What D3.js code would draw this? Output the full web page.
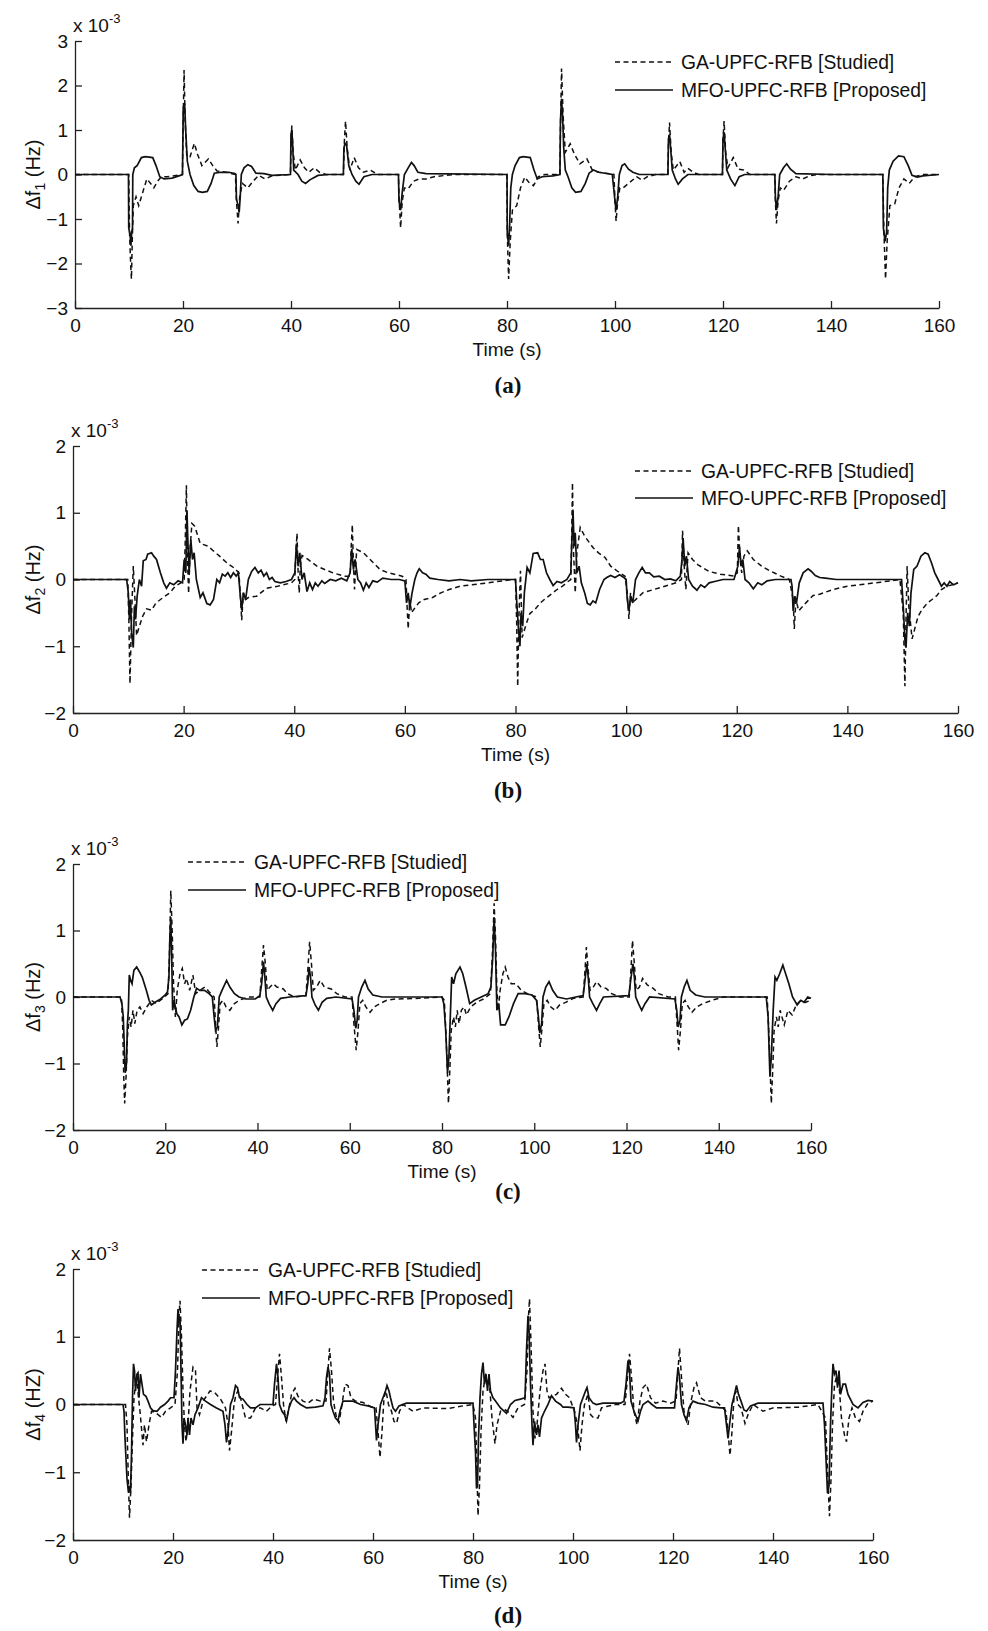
<!DOCTYPE html>
<html>
<head>
<meta charset="utf-8">
<script src="https://cdn.jsdelivr.net/npm/d3@7"></script>
<style>
  body { margin: 0; background: #fff; }
  svg text { font-family: "Liberation Sans", Arial, sans-serif; fill: #111; }
  .caption { font-family: "Liberation Serif", "Times New Roman", serif !important; font-weight: bold; }
  .axis path, .axis line { stroke: #222; stroke-width: 1.3; }
  .axis text { font-size: 19px; fill: #111; font-family: "Liberation Sans", Arial, sans-serif; }
</style>
</head>
<body>
<svg id="fig" width="988" height="1631"></svg>
<script>
// time axis (s) and tick labels, values below are in units of 1e-3 Hz
const timeTicks = [0, 20, 40, 60, 80, 100, 120, 140, 160];
const yTicks3 = [-3, -2, -1, 0, 1, 2, 3];
const yTicks2 = [-2, -1, 0, 1, 2];
const legendLabels = ["GA-UPFC-RFB [Studied]", "MFO-UPFC-RFB [Proposed]"];
const captions = ["(a)", "(b)", "(c)", "(d)"];

// panel (a) - delta f1
const gaA = [[0,0],[9.95,0],[10.1,-1.3],[10.3,-2.0],[10.45,-2.35],[10.6,-1.5],[10.8,-0.7],[11.3,-0.5],[11.8,-0.7],[12.3,-0.5],[13.3,-0.1],[14,-0.2],[14.6,-0.3],[15.3,-0.15],[16,-0.05],[17,-0.05],[19.9,0],[20,1.0],[20.2,2.35],[20.4,1.2],[20.7,0.4],[21.3,0.4],[22.1,0.7],[22.7,0.45],[23.5,0.2],[24.7,0.35],[25.5,0.2],[26.3,0.08],[28,0.05],[29.7,0],[29.9,-0.6],[30.2,-1.1],[30.5,-0.5],[31,-0.2],[32,-0.3],[33,-0.15],[34,-0.02],[35.2,-0.1],[36.5,-0.03],[39.9,0],[40,0.6],[40.15,1.1],[40.4,0.5],[40.8,0.1],[41.7,0.33],[42.5,0.15],[43.3,0.05],[44.3,0.15],[45.3,0.05],[46.5,0],[49.7,0],[49.9,0.8],[50.1,1.2],[50.4,0.6],[50.9,0.1],[51.7,0.38],[52.5,0.15],[53.4,0.05],[54.7,0.1],[56,0],[59.9,0],[60,-0.5],[60.3,-1.2],[60.6,-0.6],[61,-0.3],[61.7,-0.32],[62.7,-0.15],[63.7,-0.1],[65,-0.1],[66.5,-0.05],[70,0],
  [80,0],[80.05,-1.3],[80.3,-2.35],[80.6,-1.5],[81,-0.8],[81.8,-0.7],[82.5,-0.3],[83.3,-0.06],[84.2,-0.2],[84.9,-0.25],[85.8,-0.05],[87,0],[89.8,0],[89.9,1.0],[90.1,2.38],[90.4,1.3],[90.8,0.5],[91.7,0.69],[92.5,0.45],[93.5,0.24],[94.8,0.35],[95.8,0.1],[97,0.05],[99.8,0],[100,-0.6],[100.2,-1.05],[100.5,-0.6],[100.9,-0.3],[101.5,-0.3],[102.5,-0.2],[104,-0.05],[105,-0.13],[106,-0.05],[107.5,0],[109.8,0],[109.9,0.7],[110.1,1.17],[110.4,0.5],[110.8,0.1],[112,0.29],[112.8,0.05],[113.5,0.14],[114.5,0.05],[115.5,0],[119.9,0],[120,0.8],[120.2,1.2],[120.5,0.5],[120.9,0.15],[121.9,0.38],[122.8,0.12],[123.8,0.1],[125,0],[129.6,0],[129.7,-0.6],[129.9,-1.1],[130.2,-0.6],[130.6,-0.3],[131.2,-0.36],[132.3,-0.15],[133.5,-0.05],[134.8,-0.1],[136,-0.03],[137.5,0],[149.6,0],[149.8,-1.3],[150.1,-2.35],[150.4,-1.5],[150.9,-0.7],[151.8,-0.66],[152.6,-0.3],[153.5,-0.1],[154.5,-0.2],[155.5,-0.05],[157,0],[160,0]];
const mfoA = [[0,0],[9.9,0],[9.95,-1.2],[10.2,-1.35],[10.35,-1.6],[10.5,-1.3],[10.65,-1.2],[10.7,0],[11,0.15],[11.5,0.2],[12.3,0.38],[13,0.4],[14.4,0.38],[15,0.2],[15.7,-0.05],[16.5,-0.1],[18,-0.08],[19.5,-0.02],[19.9,0],[20.05,1.5],[20.3,1.6],[20.5,1.0],[20.8,0.3],[21.3,0],[22,-0.25],[22.8,-0.38],[23.6,-0.4],[24.5,-0.38],[25.2,-0.2],[25.8,0.03],[27,0.05],[28.5,0.05],[29.6,0.02],[29.8,0],[29.9,-0.55],[30.2,-0.7],[30.4,-0.85],[30.6,-0.5],[30.8,0],[31.3,0.15],[32,0.22],[32.7,0.18],[33.5,0.03],[35,0.02],[36.5,-0.02],[39.9,0],[40,0.9],[40.15,1.0],[40.3,0.7],[40.5,0.1],[41.3,0],[42,-0.15],[42.7,-0.2],[43.5,-0.12],[45,-0.02],[47,0],[49.7,0],[49.8,0.6],[50,0.7],[50.3,0.65],[50.7,0.2],[51.3,0],[52,-0.15],[52.6,-0.22],[53.5,-0.05],[55,0],[59.9,0],[60,-0.6],[60.3,-0.8],[60.6,-0.4],[61,0],[61.7,0.15],[62.3,0.27],[62.8,0.2],[63.5,0.05],[65,0.02],
  [80,0],[80.05,-1.3],[80.3,-1.6],[80.5,-1.1],[80.7,-0.3],[81,0],[81.5,0.2],[82.3,0.38],[83,0.4],[84.3,0.38],[85,0.1],[85.6,-0.1],[86.5,-0.05],[88.5,-0.03],[89.8,0],[89.9,1.2],[90.1,1.7],[90.3,1.3],[90.5,0.6],[90.8,0.1],[91.3,-0.05],[92,-0.3],[92.7,-0.4],[93.7,-0.38],[94.5,-0.2],[95.2,0.03],[96,0.1],[97,0.05],[99.5,0],[100,-0.6],[100.2,-0.8],[100.5,-0.5],[100.8,0],[101.3,0.2],[101.8,0.24],[102.5,0.12],[103.3,0.05],[104.5,0],[109.8,0],[109.9,0.8],[110.1,0.9],[110.3,0.6],[110.6,0.1],[111.2,-0.1],[111.7,-0.22],[112.5,-0.1],[113.5,0],[119.9,0],[120,0.8],[120.2,0.95],[120.4,0.6],[120.7,0.1],[121.4,-0.1],[122.2,-0.25],[123,-0.05],[124,0],[129.6,0],[129.7,-0.5],[129.9,-0.8],[130.2,-0.5],[130.5,0],[131.2,0.15],[131.8,0.24],[132.5,0.12],[133.5,0.02],[140,0],[149.6,0],[149.7,-1.2],[150,-1.5],[150.3,-1.3],[150.5,-0.3],[150.8,0.1],[151.5,0.3],[152.5,0.42],[153.5,0.4],[154.3,0.2],[155,-0.02],[156,-0.06],[157,-0.03],[160,0]];

// panel (b) - delta f2
const gaB = [[0,0],[9.9,0],[10.1,-0.6],[10.3,-1.56],[10.6,-0.5],[10.9,0.2],[11.2,-0.3],[11.5,-0.84],[12,-0.7],[12.6,-0.55],[13.3,-0.44],[14.2,-0.46],[15,-0.35],[16.3,-0.27],[17.5,-0.2],[18.5,-0.1],[19.5,-0.05],[20.1,0],[20.3,0.6],[20.5,1.41],[20.7,0.3],[20.9,-0.21],[21.2,0.5],[21.5,0.84],[22,0.8],[23,0.54],[24.4,0.5],[25.5,0.42],[26.5,0.35],[27.8,0.25],[29,0.18],[30,0.1],[30.3,-0.3],[30.5,-0.61],[30.8,-0.2],[31.2,-0.3],[31.7,-0.27],[33.2,-0.25],[35,-0.13],[37,-0.1],[39.5,-0.05],[40.1,0],[40.3,0.4],[40.5,0.69],[40.7,0.1],[40.9,-0.2],[41.1,0.2],[41.4,0.36],[42.5,0.3],[44.1,0.2],[45.5,0.15],[47,0.1],[49,0.05],[50.1,0.05],[50.3,0.5],[50.5,0.82],[50.7,0.2],[50.9,-0.15],[51.1,0.2],[51.3,0.45],[52.5,0.4],[54.3,0.25],[55.5,0.15],[57,0.1],[59.5,0.05],[60.2,0],[60.4,-0.4],[60.6,-0.74],[60.9,-0.3],[61.2,-0.5],[61.5,-0.46],[62.5,-0.35],[63.5,-0.3],[65,-0.27],[66.5,-0.2],[68,-0.15],[70,-0.1],[75,-0.05],[79.5,0],
  [80,0],[80.2,-0.6],[80.4,-1.6],[80.6,-0.6],[80.9,0.13],[81.2,-0.87],[82,-0.65],[82.6,-0.51],[83.5,-0.45],[84.5,-0.35],[85.5,-0.28],[86.6,-0.21],[87.5,-0.15],[88.5,-0.1],[89.5,-0.03],[90,0],[90.15,0.6],[90.3,1.45],[90.5,0.4],[90.8,-0.2],[91.1,0.4],[91.7,0.78],[92.5,0.65],[94,0.48],[95,0.4],[96.2,0.33],[97.2,0.2],[98.5,0.12],[99.8,0.05],[100.2,-0.2],[100.5,-0.59],[100.8,-0.2],[101.1,-0.35],[101.6,-0.31],[103,-0.2],[105,-0.15],[107,-0.1],[109,-0.05],[110,0],[110.2,0.73],[110.5,0.2],[110.8,-0.15],[111.2,0.4],[112,0.3],[113,0.22],[115,0.12],[117,0.08],[119.5,0.05],[120.1,0.1],[120.3,0.81],[120.6,0.3],[120.9,0.1],[121.3,0.35],[121.9,0.43],[123,0.3],[124.5,0.2],[126,0.13],[128,0.05],[129.5,0],[130.2,-0.3],[130.4,-0.74],[130.7,-0.3],[131.2,-0.47],[132.5,-0.35],[133.8,-0.24],[135,-0.22],[137.4,-0.15],[140,-0.1],[143,-0.07],[146,-0.04],[149.5,0],[150.1,-0.5],[150.4,-1.6],[150.6,-0.6],[150.8,0.2],[151.1,-0.4],[151.7,-0.89],[152.3,-0.7],[152.8,-0.55],[153.5,-0.45],[154.5,-0.35],[155.3,-0.3],[156.2,-0.24],[157,-0.15],[158,-0.1],[159,-0.08],[160,-0.05]];
const mfoB = [[0,0],[9.7,0],[10,-0.2],[10.2,-0.6],[10.4,-0.3],[10.6,-0.8],[10.9,-1.02],[11.1,-0.4],[11.3,-0.6],[11.6,-0.25],[12,0],[12.4,-0.1],[12.7,0.28],[13.2,0.3],[13.5,0.38],[14.2,0.4],[14.6,0.35],[15.1,0.3],[15.8,0.1],[16.4,-0.05],[16.9,-0.13],[17.5,-0.05],[18.2,-0.08],[19,-0.02],[19.8,-0.05],[20.1,0.3],[20.4,0.1],[20.6,1.03],[20.8,0.5],[21,0.1],[21.3,0.6],[21.6,0.3],[21.9,0.4],[22.3,0],[23,-0.27],[23.5,-0.2],[24.2,-0.36],[24.8,-0.38],[25.4,-0.3],[26,0],[26.5,-0.05],[27,0.08],[27.5,0.05],[28,0.1],[28.5,0.03],[29,0.1],[29.5,0.05],[29.9,0.1],[30.2,-0.2],[30.5,-0.46],[30.8,-0.2],[31.2,-0.3],[31.7,0],[32.3,0.12],[32.9,0.18],[33.5,0.1],[34,0.14],[34.5,0.05],[35,0.1],[35.5,0],[36,0.03],[36.5,-0.03],[37.5,-0.05],[38.5,-0.03],[39.5,0],[40.1,0.1],[40.4,0.54],[40.7,0.2],[41,0.4],[41.4,0],[41.8,0.1],[42.3,-0.18],[42.8,-0.05],[43.3,-0.15],[43.8,-0.05],[44.3,-0.1],[45,-0.02],[45.5,-0.06],[46.5,0],[47.5,-0.02],[48.5,0.02],[49.5,-0.02],[50.1,0.1],[50.4,0.46],[50.7,0.15],[51,0.3],[51.5,0],[52,-0.05],[52.5,-0.16],[53,-0.05],[53.5,-0.12],[54.2,-0.02],[55,-0.04],[56,0.02],[57.5,0],[59,0],[60,-0.02],[60.3,-0.35],[60.6,-0.2],[60.9,-0.42],[61.3,-0.2],[61.8,0],[62.2,0.1],[62.6,0.16],[63.2,0.1],[63.8,0.08],[64.5,0.02],[66,0],[68,-0.02],[70,0],[72,-0.02],[75,0],
  [80,0],[80.2,-0.3],[80.5,-0.7],[80.8,-1.0],[81,-0.5],[81.3,-0.7],[81.6,-0.2],[82.1,0.18],[82.6,0.1],[83.2,0.39],[84,0.4],[84.5,0.3],[85,0.3],[85.6,0.1],[86.2,0],[86.8,-0.09],[87.5,-0.03],[88.3,-0.05],[89.3,0],[90,0.1],[90.2,0.6],[90.4,1.03],[90.6,0.5],[90.8,0.7],[91.1,0.1],[91.5,0.2],[91.9,-0.05],[92.5,-0.2],[93,-0.36],[93.5,-0.38],[94,-0.32],[94.5,-0.35],[95.2,-0.15],[96,0],[96.5,0.03],[97.2,0.06],[98,0.03],[98.8,0.07],[99.6,0.03],[100,0],[100.2,-0.3],[100.5,-0.47],[100.8,-0.25],[101.2,-0.35],[101.7,0],[102.3,0.1],[102.9,0.18],[103.5,0.1],[104.2,0.1],[105,0.04],[106,0.05],[107,0],[108,0.01],[109,-0.02],[109.8,0.05],[110.1,0.3],[110.3,0.62],[110.6,0.2],[110.9,0.35],[111.3,0],[112,-0.1],[112.8,-0.16],[113.5,-0.08],[114.2,-0.12],[115,-0.05],[116,-0.03],[117.5,0],[119.5,0],[120.2,0.2],[120.5,0.49],[120.8,0.2],[121.1,0.3],[121.5,0],[122.2,-0.05],[123,-0.14],[123.8,-0.05],[124.5,-0.08],[125.5,-0.02],[127,0],[129.8,0],[130,-0.1],[130.2,-0.47],[130.5,-0.25],[130.8,-0.35],[131.3,-0.05],[132,0.1],[132.9,0.16],[133.5,0.12],[134.2,0.06],[135,0.03],[136,0.02],[138,0],[149.8,0],[150.1,-0.4],[150.4,-0.9],[150.6,-1.02],[150.9,-0.5],[151.2,-0.7],[151.5,-0.2],[152,0.15],[152.6,0.2],[153.3,0.35],[154,0.4],[154.6,0.38],[155.2,0.25],[155.8,0.1],[156.4,0],[157,-0.1],[157.5,-0.05],[158,-0.1],[158.5,-0.03],[159.2,-0.08],[160,-0.05]];

// panel (c) - delta f3
const gaC = [[0,0],[10.5,0],[10.8,-0.5],[11,-1.2],[11.2,-1.6],[11.5,-1.2],[11.8,-0.6],[12.2,-0.3],[12.6,-0.45],[13,-0.2],[13.4,-0.4],[13.9,-0.2],[14.5,-0.15],[15.2,-0.25],[16,-0.15],[17,-0.05],[18,-0.1],[19.5,-0.02],[20.6,0.05],[20.9,0.6],[21.2,1.6],[21.5,1.0],[21.8,0.2],[22.2,-0.3],[22.6,0.1],[23.2,0.35],[23.7,0.43],[24.2,0.2],[24.6,0.28],[25.3,0.1],[26,0.33],[26.6,0.05],[27.5,0.1],[28.6,0.15],[29.5,0.08],[30.6,0],[30.9,-0.4],[31.2,-0.75],[31.5,-0.5],[31.9,-0.1],[32.5,-0.05],[33.2,-0.15],[34,-0.2],[35,-0.1],[36,-0.05],[38,0],[40.5,0],[40.9,0.4],[41.3,0.78],[41.7,0.5],[42.1,0.1],[42.7,0.15],[43.4,0.2],[44.2,0.15],[45.6,0.12],[46.5,0.05],[48,0],[50.5,0.02],[50.9,0.4],[51.3,0.83],[51.7,0.5],[52.1,0.1],[52.8,0.15],[53.6,0.25],[54.5,0.15],[56,0.12],[57.2,0.05],[59,0],[60.5,0],[60.9,-0.4],[61.4,-0.8],[61.8,-0.5],[62.2,-0.1],[62.8,-0.05],[63.5,-0.15],[64.4,-0.23],[65.3,-0.15],[66.5,-0.1],[68,-0.05],[70,-0.03],[75,-0.02],
  [80,0],[80.5,-0.05],[80.9,-0.6],[81.2,-1.2],[81.4,-1.6],[81.7,-1.1],[82,-0.5],[82.5,-0.3],[82.9,-0.45],[83.3,-0.2],[83.7,-0.4],[84.2,-0.2],[84.8,-0.15],[85.3,-0.27],[86.2,-0.15],[87.5,-0.08],[89,-0.03],[90.5,0.05],[90.9,0.6],[91.3,1.41],[91.6,0.9],[91.9,0.1],[92.2,-0.2],[92.6,0.1],[93.2,0.35],[93.7,0.45],[94.3,0.3],[95,0.2],[96,0.2],[97.2,0.1],[98.5,0.05],[100.5,0],[100.9,-0.4],[101.3,-0.75],[101.7,-0.45],[102.1,-0.1],[102.8,-0.05],[103.6,-0.15],[104.5,-0.2],[105.5,-0.12],[106.8,-0.08],[108.5,-0.02],[110.6,0],[111,0.4],[111.3,0.75],[111.7,0.4],[112.1,0.1],[112.8,0.15],[113.5,0.23],[114.5,0.15],[115.6,0.13],[116.8,0.05],[118.5,0],[120.6,0],[121,0.45],[121.3,0.85],[121.7,0.5],[122.1,0.1],[122.8,0.15],[123.5,0.28],[124.5,0.18],[125.8,0.13],[127,0.05],[129,0],[130.6,0],[131,-0.45],[131.3,-0.8],[131.7,-0.5],[132.1,-0.1],[132.7,-0.05],[133.4,-0.15],[134.2,-0.23],[135.2,-0.15],[136.5,-0.1],[138.5,-0.05],[141,0],[150.5,0],[150.9,-0.6],[151.2,-1.2],[151.4,-1.6],[151.7,-1.1],[152,-0.5],[152.5,-0.3],[152.9,-0.45],[153.3,-0.2],[153.7,-0.3],[154.2,-0.42],[155,-0.2],[155.9,-0.27],[156.8,-0.12],[157.8,-0.05],[158.8,-0.08],[160,-0.05]];
const mfoC = [[0,0],[10.2,0],[10.6,-0.1],[10.9,-0.3],[11.1,-0.7],[11.3,-1.14],[11.6,-1.0],[11.8,-0.4],[12,-0.2],[12.2,0.33],[12.5,0.25],[12.8,0.2],[13.2,0.4],[13.8,0.45],[14.4,0.38],[15,0.3],[15.9,0.1],[16.5,-0.05],[17,-0.12],[17.8,-0.08],[19,-0.03],[20,0.03],[20.5,0.08],[20.8,0.3],[21,0.9],[21.2,1.2],[21.4,0.6],[21.6,-0.2],[21.9,-0.05],[22.5,-0.25],[23,-0.3],[23.6,-0.42],[24.2,-0.35],[24.8,-0.33],[25.5,-0.2],[26.2,0],[26.8,0.13],[27.5,0.1],[28.5,0.1],[29.5,0.05],[30.2,0],[30.6,-0.3],[30.9,-0.5],[31.3,-0.45],[31.7,0],[32.3,0.1],[33.3,0.25],[34,0.15],[35,0.05],[36,0],[37.5,-0.03],[39.5,-0.03],[40.5,0.02],[40.9,0.2],[41.3,0.53],[41.6,0.3],[41.9,0],[42.5,-0.1],[43.3,-0.2],[44,-0.1],[45,-0.02],[47,0],[50.5,0.02],[50.9,0.2],[51.2,0.45],[51.5,0.3],[51.8,0],[52.5,-0.12],[53.2,-0.2],[54,-0.08],[55,-0.02],[57,0],[60.5,-0.03],[60.9,-0.2],[61.3,-0.47],[61.6,-0.35],[61.9,0],[62.6,0.15],[63.3,0.25],[64,0.12],[65,0.03],[67,0],
  [80,0],[80.4,-0.1],[80.8,-0.5],[81.2,-1.14],[81.5,-0.9],[81.8,-0.3],[82.1,0.3],[82.5,0.2],[83,0.35],[83.9,0.45],[84.5,0.35],[85.2,0.15],[86,-0.1],[87,-0.05],[88.5,0],[90,0.05],[90.6,0.15],[91,0.6],[91.3,1.2],[91.6,0.7],[91.9,-0.2],[92.3,-0.1],[92.7,-0.42],[93.7,-0.42],[94.5,-0.3],[95.5,-0.1],[96.5,0.05],[98,0.05],[99.5,0.03],[100.5,-0.05],[100.9,-0.3],[101.2,-0.54],[101.6,-0.4],[101.9,0],[102.5,0.15],[103.2,0.23],[104,0.1],[105,0],[107,-0.03],[109,0],[110.6,0.02],[111,0.25],[111.4,0.5],[111.7,0.3],[112,0],[112.7,-0.1],[113.5,-0.2],[114.2,-0.1],[115,0],[120.5,0.02],[120.9,0.25],[121.4,0.5],[121.7,0.3],[122,0],[122.6,-0.1],[123.3,-0.2],[124,-0.1],[125,0],[130.5,-0.03],[130.9,-0.2],[131.2,-0.45],[131.6,-0.35],[131.9,0],[132.5,0.15],[133.1,0.25],[133.8,0.1],[135,0.03],[137,0],[150.3,0],[150.7,-0.3],[151.1,-1.2],[151.4,-0.9],[151.8,-0.2],[152.2,0.3],[152.6,0.25],[153.2,0.35],[153.9,0.48],[154.5,0.35],[155.2,0.2],[156,0],[157,-0.12],[157.8,-0.05],[158.5,-0.08],[159.3,0],[160,-0.02]];

// panel (d) - delta f4
const gaD = [[0,0],[10.5,0],[10.8,-0.3],[11.1,-1.2],[11.3,-1.67],[11.6,-1.2],[11.9,-0.5],[12.2,0.1],[12.5,0.3],[12.8,0.35],[13.1,0.1],[13.4,-0.1],[13.7,-0.35],[14,-0.6],[14.3,-0.3],[14.7,-0.55],[15.2,-0.3],[15.7,-0.1],[16.5,-0.12],[17.7,-0.19],[18.5,-0.1],[19.5,-0.05],[20.4,0],[20.9,0.5],[21.2,1.3],[21.4,1.53],[21.7,1.0],[22,0.2],[22.3,-0.3],[22.6,-0.55],[23,-0.3],[23.4,0.2],[24,0.55],[24.5,0.5],[24.8,-0.05],[25.3,-0.15],[26,0.05],[27.4,0.2],[28.3,0.18],[29.5,0.08],[30.5,-0.05],[31,-0.3],[31.3,-0.68],[31.7,-0.4],[32.2,0],[32.6,0.15],[33,0.2],[33.5,0.1],[34,-0.05],[34.5,-0.2],[35.5,-0.2],[36.5,-0.05],[37.5,-0.05],[38.7,-0.1],[39.8,-0.02],[40.5,0],[40.9,0.4],[41.3,0.75],[41.7,0.4],[42.1,0],[42.6,-0.25],[43.2,-0.05],[43.7,0.15],[44.4,0.24],[45,0.12],[46,0.05],[47,0.02],[48.1,0.08],[49.5,0.05],[50.6,0.05],[51,0.5],[51.3,0.83],[51.7,0.5],[52.1,0.05],[52.7,-0.2],[53.2,-0.27],[53.8,0],[54.4,0.3],[55,0.28],[55.6,0.1],[56.5,0.05],[58,0.03],[59.5,-0.03],[60.6,-0.05],[61,-0.4],[61.4,-0.78],[61.8,-0.4],[62.2,0.1],[62.6,0.2],[63.1,0],[63.7,-0.1],[64.2,-0.25],[64.7,-0.28],[65.3,-0.1],[66,0],[67,-0.05],[68,-0.1],[70,-0.05],[75,-0.06],[78,-0.02],
  [80,0],[80.5,-0.2],[80.8,-1.0],[81,-1.64],[81.3,-1.2],[81.6,-0.4],[82,0.2],[82.5,0.43],[82.9,0.35],[83.3,0.3],[83.8,-0.2],[84.4,-0.58],[84.8,-0.3],[85.5,-0.1],[86.5,-0.08],[87.2,-0.12],[88,-0.19],[89,-0.05],[90.3,0],[90.8,0.5],[91.1,1.3],[91.3,1.56],[91.6,0.9],[92,-0.1],[92.4,-0.5],[92.8,-0.3],[93.4,0.2],[94,0.5],[94.4,0.6],[94.8,0.2],[95.2,0.1],[95.8,0.12],[96.7,0.15],[97.7,0.24],[98.5,0.15],[99.3,0.1],[100.3,-0.1],[100.9,-0.3],[101.4,-0.68],[101.8,-0.3],[102.3,0],[103,0.15],[103.5,-0.15],[104.2,-0.2],[105,-0.2],[105.7,-0.05],[106.7,-0.03],[108.5,0],[110.4,0],[110.9,0.4],[111.3,0.75],[111.7,0.4],[112.2,-0.1],[112.8,-0.3],[113.4,0.05],[114,0.25],[114.7,0.3],[115.5,0.1],[116.5,0.02],[118,0.05],[119.5,0.02],[120.6,0.05],[121,0.5],[121.3,0.83],[121.7,0.4],[122.2,-0.1],[123,-0.3],[123.6,0.05],[124.2,0.25],[124.7,0.32],[125.5,0.1],[126.5,0.05],[127.5,0.05],[128.5,0.05],[130,-0.05],[130.6,-0.1],[131,-0.4],[131.4,-0.75],[131.8,-0.4],[132.2,0.1],[132.6,0.2],[133,0],[133.6,-0.05],[134.4,-0.28],[135,-0.15],[136,0],[137,-0.05],[138,-0.1],[140,-0.05],[145,-0.04],[149,0],[150.5,-0.2],[150.9,-1.0],[151.3,-1.65],[151.6,-1.1],[151.9,-0.3],[152.3,0.3],[152.7,0.4],[153.2,0.3],[153.7,-0.2],[154.3,-0.45],[154.7,-0.55],[155.2,-0.2],[155.8,-0.05],[156.5,-0.2],[157.3,-0.25],[158,-0.1],[159,0.02],[160,0.05]];
const mfoD = [[0,0],[10,0],[10.2,-0.1],[10.4,-0.5],[10.8,-1.1],[11.1,-1.3],[11.3,-1.2],[11.5,-1.3],[11.7,-0.73],[11.9,0.1],[12.1,0.6],[12.3,0.5],[12.5,0.2],[12.8,0.45],[13,0.47],[13.2,0.1],[13.5,0.45],[13.8,0.3],[14.1,0.15],[14.6,0.12],[15,0.05],[15.5,-0.05],[16,-0.09],[16.8,-0.1],[17.5,-0.04],[18.3,0],[19,0.05],[19.5,0.1],[20.2,0.1],[20.5,0.5],[20.8,1.1],[21,1.41],[21.2,1.2],[21.4,1.3],[21.6,0.5],[21.8,-0.3],[22,-0.58],[22.2,-0.2],[22.5,-0.3],[22.8,-0.45],[23,-0.2],[23.3,-0.45],[23.6,-0.2],[24,-0.3],[24.4,-0.15],[25,-0.05],[25.7,0.1],[26.5,0.05],[27.5,0],[28.7,-0.05],[29.5,-0.08],[30,-0.1],[30.4,-0.3],[30.7,-0.56],[31,-0.4],[31.5,0],[32,0.1],[32.5,0.28],[32.9,0.25],[33.3,0.1],[34,0.08],[34.8,0],[35.5,-0.05],[36.5,-0.05],[37.4,0],[40,0],[40.3,0.3],[40.7,0.6],[41,0.4],[41.3,0],[41.8,-0.1],[42.3,-0.15],[42.7,-0.24],[43.2,-0.05],[43.7,0.05],[44.2,0.1],[44.7,0.05],[45.5,0],[46.7,-0.05],[48.5,-0.04],[50,-0.02],[50.4,0.1],[50.7,0.4],[51,0.55],[51.3,0.45],[51.6,0],[52,-0.1],[52.5,-0.2],[53,-0.24],[53.4,-0.1],[54,0.05],[55,0.05],[56,0.05],[57.5,0],[59,-0.02],[60.3,-0.05],[60.7,-0.53],[61,-0.3],[61.5,0],[62,0.1],[62.5,0.2],[62.8,0.28],[63.2,0.2],[63.5,0.1],[64,-0.05],[64.5,-0.1],[65.2,-0.02],[66.7,0.02],[70,0.02],[75,0.02],
  [80,0.02],[80.2,-0.3],[80.5,-0.7],[80.7,-1.24],[80.9,-1.2],[81.1,-0.5],[81.4,0.1],[81.7,0.45],[82,0.62],[82.3,0.3],[82.6,0.45],[82.9,0.2],[83.2,0.45],[83.5,0.2],[84,0.1],[84.5,0.05],[85.5,-0.05],[86.7,-0.13],[87.5,0],[88.4,0.06],[89.5,0.08],[90.4,0.1],[90.7,0.8],[91,1.31],[91.2,1.1],[91.5,0.3],[91.8,-0.3],[92,-0.6],[92.3,-0.25],[92.7,-0.45],[93,-0.3],[93.3,-0.48],[93.7,-0.2],[94.3,-0.1],[95,0],[95.7,0.13],[96.5,0.05],[97.5,0],[98,-0.04],[99,-0.04],[100.2,-0.05],[100.5,-0.3],[100.7,-0.56],[101,-0.3],[101.5,0],[102,0.1],[102.5,0.2],[102.8,0.25],[103.2,0.1],[104,0.02],[104.7,0],[106,0.02],[109.5,0.02],[110.2,0.05],[110.6,0.3],[111,0.65],[111.3,0.5],[111.6,0.05],[112.2,-0.1],[113,-0.24],[113.5,-0.1],[114,0],[115,0.05],[115.8,0],[116.7,-0.05],[118.5,-0.05],[120.3,-0.05],[120.7,0.3],[121,0.55],[121.3,0.4],[121.7,0],[122.2,-0.15],[122.7,-0.24],[123.2,-0.05],[124,0.05],[125,0.02],[126.5,0],[128,-0.04],[129.5,-0.05],[130.3,-0.05],[130.7,-0.3],[131,-0.5],[131.3,-0.3],[131.8,0],[132.3,0.15],[132.7,0.28],[133.1,0.15],[133.6,0.05],[134.2,-0.08],[134.7,-0.1],[135.5,-0.02],[137,0.02],[145,0.02],[150,0.02],[150.3,-0.3],[150.6,-0.8],[150.9,-1.31],[151.2,-1.2],[151.5,-0.3],[151.8,0.3],[152,0.6],[152.3,0.45],[152.6,0.5],[152.9,0.25],[153.2,0.5],[153.5,0.15],[154,0.3],[154.5,0.3],[155,0.15],[156,0],[157,-0.05],[158,0.03],[159,0.06],[160,0.05]];

const svg = d3.select("#fig");

// layout of each panel on the page (pixels)
const panels = [
  {ga: gaA, mfo: mfoA, yTicks: yTicks3, sub: "1", unit: "Hz", caption: captions[0],
   left: 75, right: 939, top: 41, bottom: 308, legX: 615, legRows: [62, 90], capY: 393},
  {ga: gaB, mfo: mfoB, yTicks: yTicks2, sub: "2", unit: "Hz", caption: captions[1],
   left: 73, right: 958, top: 446, bottom: 713, legX: 635, legRows: [471, 498], capY: 798},
  {ga: gaC, mfo: mfoC, yTicks: yTicks2, sub: "3", unit: "Hz", caption: captions[2],
   left: 73, right: 811, top: 864, bottom: 1130, legX: 188, legRows: [862, 890], capY: 1199},
  {ga: gaD, mfo: mfoD, yTicks: yTicks2, sub: "4", unit: "HZ", caption: captions[3],
   left: 73, right: 873, top: 1269, bottom: 1540, legX: 202, legRows: [1270, 1298], capY: 1623}
];

panels.forEach(drawPanel);

function drawPanel(p) {
  const x = d3.scaleLinear().domain([0, 160]).range([p.left, p.right]);
  const y = d3.scaleLinear().domain(d3.extent(p.yTicks)).range([p.bottom, p.top]);
  const g = svg.append("g");

  g.append("g")
    .attr("class", "axis")
    .attr("transform", `translate(0,${p.bottom})`)
    .call(d3.axisBottom(x).tickValues(timeTicks).tickSizeInner(-7).tickSizeOuter(0).tickPadding(11).tickFormat(d3.format("d")));

  g.append("g")
    .attr("class", "axis")
    .attr("transform", `translate(${p.left},0)`)
    .call(d3.axisLeft(y).tickValues(p.yTicks).tickSizeInner(-7).tickSizeOuter(0).tickPadding(7).tickFormat(d3.format("d")));

  g.selectAll(".axis .domain").attr("stroke", "#222");

  const line = d3.line().x(d => x(d[0])).y(d => y(d[1]));

  g.append("path")
    .datum(p.ga)
    .attr("fill", "none")
    .attr("stroke", "#111")
    .attr("stroke-width", 1.5)
    .attr("stroke-dasharray", "5,3.5")
    .attr("d", line);

  g.append("path")
    .datum(p.mfo)
    .attr("fill", "none")
    .attr("stroke", "#111")
    .attr("stroke-width", 1.7)
    .attr("d", line);

  // "x 10^-3" multiplier
  const mult = g.append("text")
    .attr("x", p.left - 2)
    .attr("y", p.top - 9)
    .attr("font-size", 19);
  mult.append("tspan").text("x 10");
  mult.append("tspan").attr("font-size", 13).attr("dy", -9).text("-3");

  // y label with subscript
  const cy = (p.top + p.bottom) / 2;
  const yl = g.append("text")
    .attr("transform", `translate(40,${cy}) rotate(-90)`)
    .attr("text-anchor", "middle")
    .attr("font-size", 20);
  yl.append("tspan").text("Δf");
  yl.append("tspan").attr("font-size", 14).attr("dy", 5).text(p.sub);
  yl.append("tspan").attr("dy", -5).text(` (${p.unit})`);

  // x label
  g.append("text")
    .attr("x", (p.left + p.right) / 2)
    .attr("y", p.bottom + 48)
    .attr("text-anchor", "middle")
    .attr("font-size", 19)
    .text("Time (s)");

  // legend
  const styles = [{dash: "5,3.5", w: 1.4}, {dash: null, w: 1.6}];
  legendLabels.forEach((lab, i) => {
    const ry = p.legRows[i];
    g.append("line")
      .attr("x1", p.legX).attr("x2", p.legX + 58)
      .attr("y1", ry).attr("y2", ry)
      .attr("stroke", "#111")
      .attr("stroke-width", styles[i].w)
      .attr("stroke-dasharray", styles[i].dash);
    g.append("text")
      .attr("x", p.legX + 66)
      .attr("y", ry)
      .attr("dy", "0.35em")
      .attr("font-size", 19.3)
      .text(lab);
  });

  // panel caption
  g.append("text")
    .attr("class", "caption")
    .attr("x", 508)
    .attr("y", p.capY)
    .attr("text-anchor", "middle")
    .attr("font-size", 23)
    .text(p.caption);
}
</script>
</body>
</html>
